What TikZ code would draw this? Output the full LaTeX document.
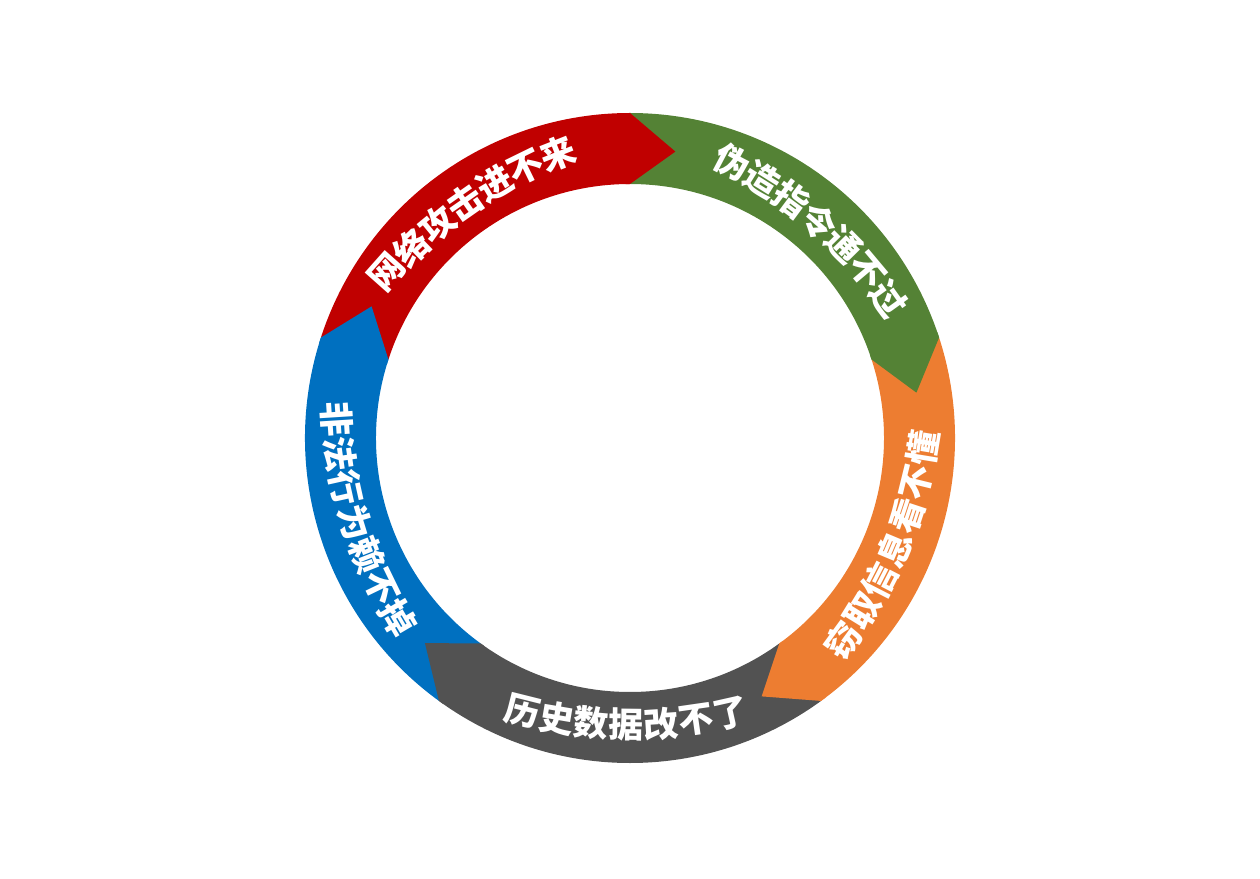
\documentclass[tikz,border=0pt]{standalone}
\usepackage{fontspec}
\newfontfamily\cjk{Noto Sans CJK SC}
\definecolor{cred}{HTML}{C00000}
\definecolor{cgreen}{HTML}{548235}
\definecolor{corange}{HTML}{ED7D31}
\definecolor{cgray}{HTML}{525252}
\definecolor{cblue}{HTML}{0070C0}
\newcommand{\Rout}{325}
\newcommand{\Rin}{254}
\newcommand{\Rtip}{290}
% body of a ring segment from angle #2 down to #3
\newcommand{\segbody}[3]{%
  \fill[#1] (#2:\Rout) arc[start angle=#2, end angle=#3, radius=\Rout]
    -- (#3:\Rin) arc[start angle=#3, end angle=#2, radius=\Rin] -- cycle;}
% arrow tip at base angle #2
\newcommand{\segtip}[2]{%
  \fill[#1] (#2+1:\Rout) -- (#2:\Rout) -- (#2-9:\Rtip) -- (#2:\Rin) -- (#2+1:\Rin) -- cycle;}
% text along a flat arc: #1 name, #2 mid angle, #3 direction (+1 ccw reading, -1 cw), #4 chars
\newcommand{\ringtext}[4]{%
  \foreach \c [count=\k from 0] in {#4} {
    \pgfmathsetmacro\ang{#2 + #3*(\k-3)*4.456}
    \pgfmathsetmacro\rot{\ang + #3*90}
    \path (#2:-163) ++(\ang:450) node[ringlabel, rotate=\rot] (#1-\k) {\c};
  }}
\tikzset{ringlabel/.style={text=white, inner sep=0pt, font=\cjk\bfseries\fontsize{35}{35}\selectfont}}
\begin{document}
\begin{tikzpicture}[x=1pt,y=1pt]
\useasboundingbox (-630,-440) rectangle (630,438);
\segbody{cred}{162}{90}
\segbody{cgreen}{90}{18}
\segbody{corange}{18}{-54}
\segbody{cgray}{-54}{-126}
\segbody{cblue}{-126}{-198}
\segtip{cred}{90}
\segtip{cgreen}{18}
\segtip{corange}{-54}
\segtip{cgray}{-126}
\segtip{cblue}{-198}
\ringtext{red}{125}{-1}{网,络,攻,击,进,不,来}
\ringtext{green}{49}{-1}{伪,造,指,令,通,不,过}
\ringtext{orange}{-22.7}{1}{窃,取,信,息,看,不,懂}
\ringtext{gray}{-90.7}{1}{历,史,数,据,改,不,了}
\ringtext{blue}{197}{1}{非,法,行,为,赖,不,掉}
\end{tikzpicture}
\end{document}
